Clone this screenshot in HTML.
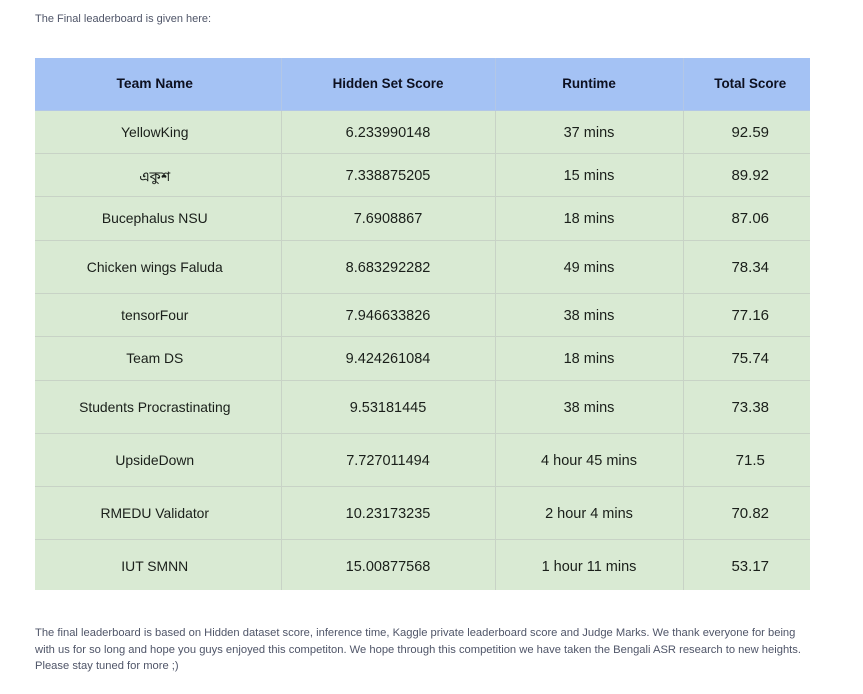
<!DOCTYPE html>
<html lang="en">
<head>
<meta charset="utf-8">
<title>Final leaderboard</title>
<style>
html,body{margin:0;padding:0;background:#fff;width:863px;height:694px;overflow:hidden}
body{position:relative;font-family:"Liberation Sans",sans-serif}
p{position:absolute;margin:0;left:35px;color:#4f5568;font-size:11.19px;white-space:nowrap}
p.line{line-height:16px}
table{position:absolute;left:35px;top:58px;width:775px;height:532px;border-collapse:collapse;table-layout:fixed;font-family:"Liberation Sans","Noto Sans Bengali",sans-serif;font-size:14.5px;color:#1a1f1a}
th,td{padding:0;text-align:center;vertical-align:middle;border-right:1px solid #c8d3c6;border-bottom:1px solid #c8d3c6;box-sizing:border-box;line-height:16px}
td{padding-top:2px;background:#d9ead3}
td:first-child{padding-top:0;padding-right:6px;font-size:13.9px}
td:last-child{padding-left:7px;font-size:15px;border-right:none}
tr:last-child td{border-bottom:none;padding-top:4px}
tr:last-child td:first-child{padding-top:2px}
tr.ekush td:first-child{padding-top:3px}
th{background:#a4c2f4;color:#0d1020;font-weight:bold;font-size:13.4px;border-color:#b3c7e6;padding-top:1px}
th:first-child{padding-right:6px;font-size:13.8px}
th:last-child{padding-left:7px;border-right:none}
</style>
</head>
<body>
<p class="line" style="top:11px;font-size:11px">The Final leaderboard is given here:</p>
<table>
<colgroup><col style="width:246px"><col style="width:214px"><col style="width:188px"><col style="width:127px"></colgroup>
<tr style="height:52px"><th>Team Name</th><th>Hidden Set Score</th><th>Runtime</th><th>Total Score</th></tr>
<tr style="height:43px"><td>YellowKing</td><td>6.233990148</td><td>37 mins</td><td>92.59</td></tr>
<tr class="ekush" style="height:43px"><td>একুশ</td><td>7.338875205</td><td>15 mins</td><td>89.92</td></tr>
<tr style="height:44px"><td>Bucephalus NSU</td><td>7.6908867</td><td>18 mins</td><td>87.06</td></tr>
<tr style="height:53px"><td>Chicken wings Faluda</td><td>8.683292282</td><td>49 mins</td><td>78.34</td></tr>
<tr style="height:43px"><td>tensorFour</td><td>7.946633826</td><td>38 mins</td><td>77.16</td></tr>
<tr style="height:44px"><td>Team DS</td><td>9.424261084</td><td>18 mins</td><td>75.74</td></tr>
<tr style="height:53px"><td>Students Procrastinating</td><td>9.53181445</td><td>38 mins</td><td>73.38</td></tr>
<tr style="height:53px"><td>UpsideDown</td><td>7.727011494</td><td>4 hour 45 mins</td><td>71.5</td></tr>
<tr style="height:53px"><td>RMEDU Validator</td><td>10.23173235</td><td>2 hour 4 mins</td><td>70.82</td></tr>
<tr style="height:51px"><td>IUT SMNN</td><td>15.00877568</td><td>1 hour 11 mins</td><td>53.17</td></tr>
</table>
<p class="line" style="top:625px">The final leaderboard is based on Hidden dataset score, inference time, Kaggle private leaderboard score and Judge Marks. We thank everyone for being</p>
<p class="line" style="top:642px">with us for so long and hope you guys enjoyed this competiton. We hope through this competition we have taken the Bengali ASR research to new heights.</p>
<p class="line" style="top:658px">Please stay tuned for more ;)</p>
</body>
</html>
